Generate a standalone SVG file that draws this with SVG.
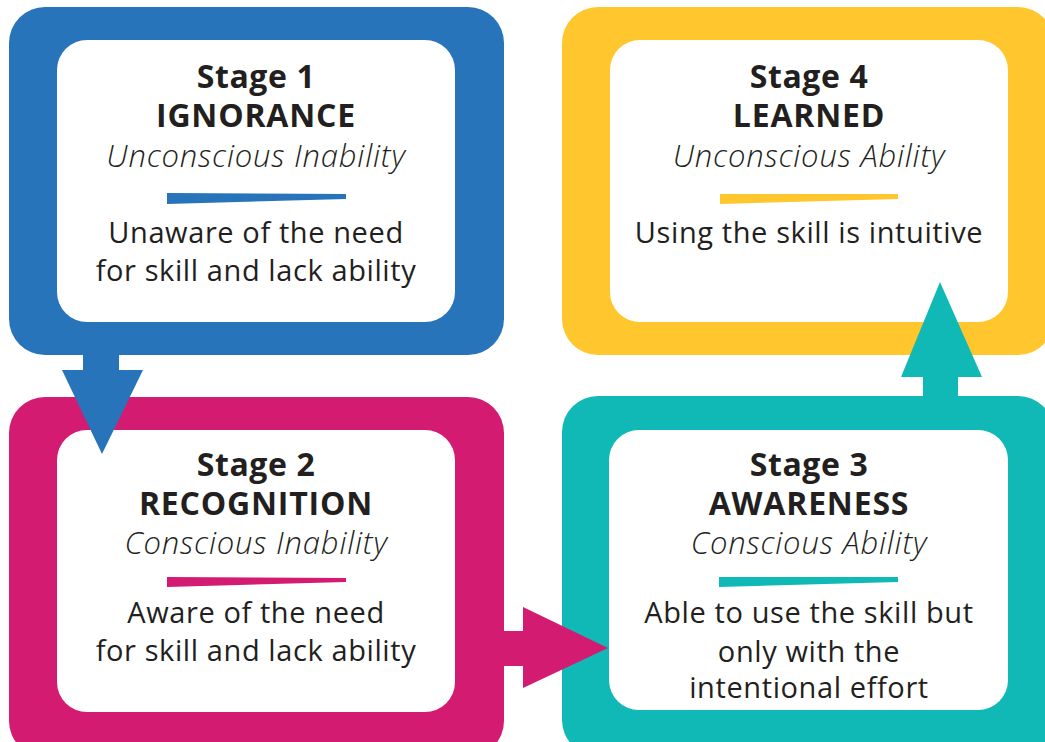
<svg xmlns="http://www.w3.org/2000/svg" width="1045" height="742" viewBox="0 0 1045 742">
  <style>
    .card { fill: #ffffff; }
    .txt { font-family: "Open Sans", "Noto Sans", "Liberation Sans", sans-serif; fill: #231f20; text-anchor: middle; }
    .stage { font-size: 32px; font-weight: 700; letter-spacing: 0.6px; }
    .name { font-size: 32px; font-weight: 700; letter-spacing: 0.8px; }
    .sub { font-size: 31px; font-weight: 300; font-style: italic; letter-spacing: 0.8px; }
    .body { font-size: 29px; font-weight: 400; letter-spacing: 0.6px; }
    .blue { fill: #2874ba; }
    .pink { fill: #d41b72; }
    .yellow { fill: #ffc62d; }
    .teal { fill: #10b9b5; }
  </style>
  <rect width="1045" height="742" fill="#ffffff"/>

  <!-- Stage 1 -->
  <g id="stage1">
    <rect class="blue" x="9" y="7" width="495" height="348" rx="36"/>
    <rect class="card" x="57" y="40" width="398" height="282" rx="30"/>
    <text class="txt stage" x="256" y="88">Stage 1</text>
    <text class="txt name" x="256" y="127">IGNORANCE</text>
    <text class="txt sub" x="256" y="167">Unconscious Inability</text>
    <polygon class="blue" points="167,193 346,194 346,199 167,204"/>
    <text class="txt body" x="256" y="243">Unaware of the need</text>
    <text class="txt body" x="256" y="281">for skill and lack ability</text>
  </g>

  <!-- Stage 4 -->
  <g id="stage4">
    <rect class="yellow" x="562" y="7" width="492" height="348" rx="36"/>
    <rect class="card" x="610" y="40" width="398" height="282" rx="30"/>
    <text class="txt stage" x="809" y="88">Stage 4</text>
    <text class="txt name" x="809" y="127">LEARNED</text>
    <text class="txt sub" x="809" y="167">Unconscious Ability</text>
    <polygon class="yellow" points="720,194 898,194 898,199 720,204"/>
    <text class="txt body" x="809" y="243">Using the skill is intuitive</text>
  </g>

  <!-- Stage 2 -->
  <g id="stage2">
    <rect class="pink" x="9" y="397" width="495" height="360" rx="36"/>
    <rect class="card" x="57" y="430" width="398" height="282" rx="30"/>
    <text class="txt stage" x="256" y="476">Stage 2</text>
    <text class="txt name" x="256" y="515">RECOGNITION</text>
    <text class="txt sub" x="256" y="554">Conscious Inability</text>
    <polygon class="pink" points="167,577 346,578 346,582 167,587"/>
    <text class="txt body" x="256" y="623">Aware of the need</text>
    <text class="txt body" x="256" y="661">for skill and lack ability</text>
  </g>

  <!-- Stage 3 -->
  <g id="stage3">
    <rect class="teal" x="562" y="396" width="492" height="360" rx="36"/>
    <rect class="card" x="609" y="430" width="399" height="280" rx="30"/>
    <text class="txt stage" x="809" y="476">Stage 3</text>
    <text class="txt name" x="809" y="515">AWARENESS</text>
    <text class="txt sub" x="809" y="554">Conscious Ability</text>
    <polygon class="teal" points="719,577 898,577 898,582 719,587"/>
    <text class="txt body" x="809" y="623">Able to use the skill but</text>
    <text class="txt body" x="809" y="662">only with the</text>
    <text class="txt body" x="809" y="698">intentional effort</text>
  </g>

  <!-- progression arrows between stages -->
  <g id="connectors">
    <polygon class="blue" points="83,350 119,350 119,370 143,370 102,454 62,370 83,370"/>
    <polygon class="pink" points="500,631 523,631 523,607 608,648 523,688 523,666 500,666"/>
    <polygon class="teal" points="923,400 923,377 901,377 940,282 982,377 958,377 958,400"/>
  </g>
</svg>
